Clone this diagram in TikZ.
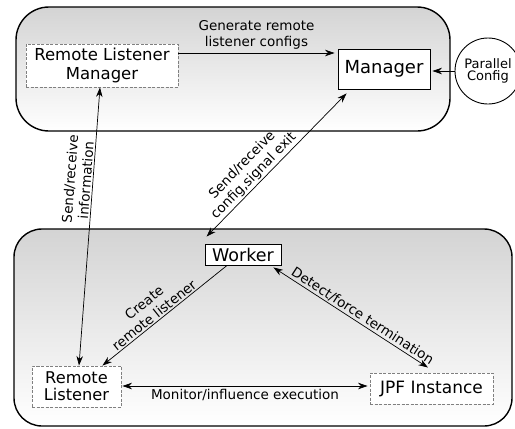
\documentclass[tikz,border=0pt]{standalone}
\usepackage{fontspec}
\setmainfont{DejaVu Sans}
\usetikzlibrary{arrows.meta}

\definecolor{panelgray}{gray}{0.83}

\tikzset{
  panel/.style={draw, line width=1.4pt, top color=panelgray, bottom color=white, inner sep=0pt},
  solidbox/.style={draw, fill=white, line width=0.9pt, inner sep=0pt, align=center},
  dashbox/.style={draw=gray, dash pattern=on 3pt off 1.5pt, fill=white, line width=0.9pt, inner sep=0pt, align=center},
  tip/.tip={Stealth[length=9.5pt,width=6.5pt,inset=3pt]},
  onearrow/.style={line width=0.7pt, -tip},
  backarrow/.style={line width=0.7pt, tip-},
  twoarrow/.style={line width=0.7pt, tip-tip},
  lbl/.style={font=\fontsize{13.5}{16}\selectfont, align=center, inner sep=1.5pt},
}

\begin{document}
\begin{tikzpicture}[x=1pt,y=-1pt]
\useasboundingbox (0,0) rectangle (515,429);

% the two shaded process panels
\node[panel, rounded corners=33pt, minimum width=434pt, minimum height=124pt] (upper) at (233,69) {};
\node[panel, rounded corners=28pt, minimum width=498pt, minimum height=197pt] (lower) at (263,327.5) {};

% components
\node[dashbox, minimum width=152pt, minimum height=43pt, font=\fontsize{16.5}{18.5}\selectfont] (rlm) at (102,65.5) {Remote Listener\\Manager};
\node[solidbox, minimum width=92pt, minimum height=40pt, font=\fontsize{18}{20}\selectfont] (mgr) at (384,69) {Manager};
\node[draw, circle, fill=white, line width=0.9pt, minimum size=66pt, inner sep=0pt, align=center, font=\fontsize{13}{12.5}\selectfont] (pc) at (488,71) {Parallel\\Config};
\node[solidbox, minimum width=76pt, minimum height=21pt, font=\fontsize{17.5}{19}\selectfont] (wk) at (243,254.5) {Worker};
\node[dashbox, minimum width=89pt, minimum height=41pt, font=\fontsize{16.2}{17}\selectfont] (rl) at (76.5,386.5) {Remote\\Listener};
\node[dashbox, minimum width=123pt, minimum height=31pt, font=\fontsize{17}{19}\selectfont] (jpf) at (431.5,388.5) {JPF Instance};

\coordinate (y53) at (0,53);
\coordinate (y386) at (0,386);

% connectors
\draw[onearrow] (rlm.east |- y53) -- ([xshift=-3pt]mgr.west |- y53)
  node[lbl, midway, above=2pt] {Generate remote\\listener configs};
\draw[onearrow] (pc.west) -- ([xshift=2pt]mgr.east |- pc.west);
\draw[twoarrow] ([xshift=2.5pt]rl.north) -- ([xshift=-2pt]rlm.south)
  node[lbl, pos=0.665, above, sloped] {Send/receive\\information};
\draw[twoarrow] ([shift={(2pt,7pt)}]wk.north west) -- ([shift={(9pt,-4pt)}]mgr.south west)
  node[lbl, pos=0.38, above, sloped] {Send/receive\\config,signal exit};
\draw[backarrow] ([xshift=-19pt]rl.north east) -- ([xshift=-16pt]wk.south)
  node[lbl, pos=0.45, above, sloped] {Create\\remote listener};
\draw[twoarrow] ([shift={(-8pt,-2pt)}]wk.south east) -- ([shift={(-3.5pt,5pt)}]jpf.north)
  node[lbl, pos=0.55, above, sloped] {Detect/force termination};
\draw[twoarrow] ([xshift=1pt]rl.east |- y386) -- ([xshift=-2pt]jpf.west |- y386)
  node[lbl, midway, below=1pt] {Monitor/influence execution};
\end{tikzpicture}
\end{document}
